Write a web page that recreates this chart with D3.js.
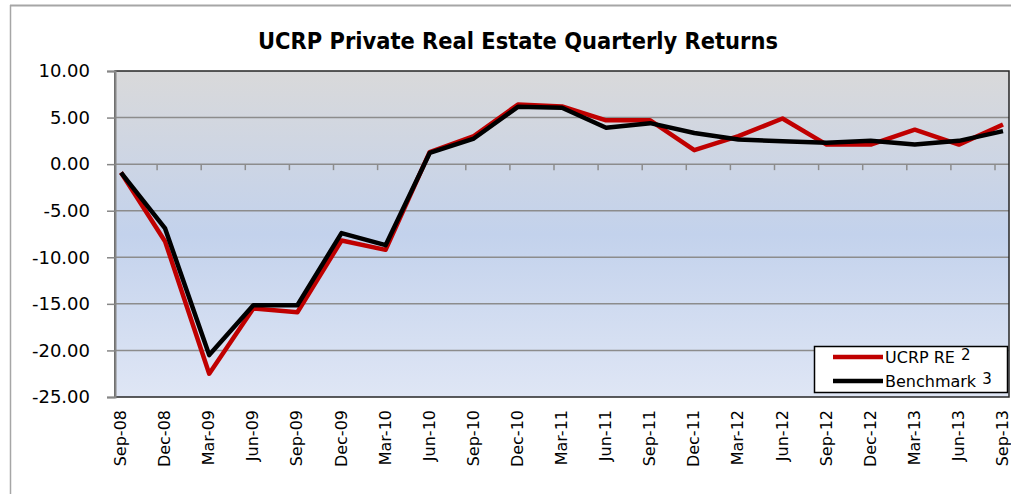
<!DOCTYPE html>
<html lang="en">
  <head>
    <meta charset="UTF-8" />
    <title>UCRP Private Real Estate Quarterly Returns</title>
    <script src="https://d3js.org/d3.v7.min.js"></script>
    <style>
      body {
        margin: 0;
        background: #ffffff;
      }
      #chart {
        width: 1011px;
        height: 494px;
      }
      text {
        font-family: "DejaVu Sans", sans-serif;
        fill: #000;
      }
    </style>
  </head>
  <body>
    <div id="chart"></div>
    <script>
      // quarters on the category axis
      const quarters = [
        "Sep-08", "Dec-08", "Mar-09", "Jun-09", "Sep-09", "Dec-09", "Mar-10",
        "Jun-10", "Sep-10", "Dec-10", "Mar-11", "Jun-11", "Sep-11", "Dec-11",
        "Mar-12", "Jun-12", "Sep-12", "Dec-12", "Mar-13", "Jun-13", "Sep-13"
      ];

      // quarterly returns (%)
      const ucrpRE = [
        -0.9, -8.3, -22.5, -15.5, -15.9, -8.2, -9.2, 1.3, 3.0, 6.4, 6.2,
        4.7, 4.7, 1.5, 3.0, 4.9, 2.1, 2.1, 3.7, 2.1, 4.25
      ];
      const benchmark = [
        -0.9, -6.9, -20.5, -15.15, -15.15, -7.4, -8.7, 1.2, 2.75, 6.15, 6.05,
        3.9, 4.4, 3.35, 2.65, 2.45, 2.3, 2.5, 2.1, 2.5, 3.55
      ];

      const yTicks = [10, 5, 0, -5, -10, -15, -20, -25];

      const width = 1011;
      const height = 494;
      const plot = { left: 115, right: 1009, top: 71, bottom: 397 };

      const svg = d3
        .select("#chart")
        .append("svg")
        .attr("width", width)
        .attr("height", height);

      // outer chart frame (only top + left visible in the picture)
      svg.append("line")
        .attr("x1", 10).attr("x2", width).attr("y1", 5.5).attr("y2", 5.5)
        .attr("stroke", "#a6a6a6").attr("stroke-width", 2);
      svg.append("line")
        .attr("x1", 10.5).attr("x2", 10.5).attr("y1", 5).attr("y2", 494)
        .attr("stroke", "#a6a6a6").attr("stroke-width", 1.5);

      const x = d3
        .scalePoint()
        .domain(quarters)
        .range([121, 1003]);

      const y = d3
        .scaleLinear()
        .domain([-25, 10])
        .range([plot.bottom, plot.top]);

      // plot area background gradient
      const defs = svg.append("defs");
      const grad = defs.append("linearGradient")
        .attr("id", "bg")
        .attr("x1", 0).attr("x2", 0).attr("y1", 0).attr("y2", 1);
      grad.append("stop").attr("offset", "0%").attr("stop-color", "#d9d9da");
      grad.append("stop").attr("offset", "50%").attr("stop-color", "#c3d2ec");
      grad.append("stop").attr("offset", "100%").attr("stop-color", "#dfe6f5");

      svg.append("rect")
        .attr("x", plot.left)
        .attr("y", plot.top)
        .attr("width", plot.right - plot.left)
        .attr("height", plot.bottom - plot.top)
        .attr("fill", "url(#bg)");

      // horizontal gridlines
      svg.append("g")
        .selectAll("line")
        .data(yTicks.filter((d) => d !== 10 && d !== -25))
        .enter()
        .append("line")
        .attr("x1", plot.left)
        .attr("x2", plot.right)
        .attr("y1", (d) => y(d))
        .attr("y2", (d) => y(d))
        .attr("stroke", "#8c8c8c")
        .attr("stroke-width", 1.5);

      // category tick marks on the zero line
      svg.append("g")
        .selectAll("line")
        .data(quarters.slice(1))
        .enter()
        .append("line")
        .attr("x1", (d) => x(d) - 8)
        .attr("x2", (d) => x(d) - 8)
        .attr("y1", y(0))
        .attr("y2", y(0) + 6)
        .attr("stroke", "#8c8c8c")
        .attr("stroke-width", 1.5);

      // plot border
      svg.append("rect")
        .attr("x", plot.left)
        .attr("y", plot.top)
        .attr("width", plot.right - plot.left)
        .attr("height", plot.bottom - plot.top)
        .attr("fill", "none")
        .attr("stroke", "#262626")
        .attr("stroke-width", 1.5);

      // y axis
      const yAxis = svg.append("g")
        .attr("transform", `translate(${plot.left},0)`)
        .call(
          d3.axisLeft(y)
            .tickValues(yTicks)
            .tickSize(8)
            .tickPadding(17)
            .tickFormat((d) => d.toFixed(2))
        );
      yAxis.select(".domain").attr("stroke", "#868686").attr("stroke-width", 2);
      yAxis.selectAll(".tick line").attr("stroke", "#868686").attr("stroke-width", 1.5);
      yAxis.selectAll(".tick text")
        .attr("font-family", "DejaVu Sans")
        .attr("font-size", 18)
        .attr("fill", "#000");

      // x labels, rotated
      svg.append("g")
        .selectAll("text")
        .data(quarters)
        .enter()
        .append("text")
        .attr("transform", (d) => `translate(${x(d) + 5},410) rotate(-90)`)
        .attr("text-anchor", "end")
        .attr("font-size", 16)
        .text((d) => d);

      // series lines
      const line = d3
        .line()
        .x((d, i) => x(quarters[i]))
        .y((d) => y(d));

      svg.append("path")
        .datum(ucrpRE)
        .attr("d", line)
        .attr("fill", "none")
        .attr("stroke", "#c00000")
        .attr("stroke-width", 4.5)
        .attr("stroke-linejoin", "round");

      svg.append("path")
        .datum(benchmark)
        .attr("d", line)
        .attr("fill", "none")
        .attr("stroke", "#000000")
        .attr("stroke-width", 4.5)
        .attr("stroke-linejoin", "round");

      // title
      svg.append("text")
        .attr("x", 518)
        .attr("y", 49)
        .attr("text-anchor", "middle")
        .attr("font-family", "Lato, sans-serif")
        .attr("font-weight", "bold")
        .attr("font-size", 23)
        .attr("textLength", 520)
        .attr("lengthAdjust", "spacingAndGlyphs")
        .text("UCRP Private Real Estate Quarterly Returns");

      // legend
      const legend = svg.append("g");
      legend.append("rect")
        .attr("x", 814.5)
        .attr("y", 346.5)
        .attr("width", 193)
        .attr("height", 46)
        .attr("fill", "#ffffff")
        .attr("stroke", "#000")
        .attr("stroke-width", 1.5);

      const legendItems = [
        { name: "UCRP RE", note: "2", color: "#c00000" },
        { name: "Benchmark", note: "3", color: "#000000" }
      ];
      legendItems.forEach((item, i) => {
        const ly = 357 + i * 24;
        legend.append("line")
          .attr("x1", 833).attr("x2", 883)
          .attr("y1", ly).attr("y2", ly)
          .attr("stroke", item.color)
          .attr("stroke-width", 4.5);
        const t = legend.append("text")
          .attr("x", 885)
          .attr("y", ly + 6)
          .attr("font-size", 16);
        t.append("tspan").text(item.name);
        t.append("tspan")
          .attr("dx", 6)
          .attr("dy", -3)
          .attr("font-size", 15)
          .text(item.note);
      });
    </script>
  </body>
</html>
